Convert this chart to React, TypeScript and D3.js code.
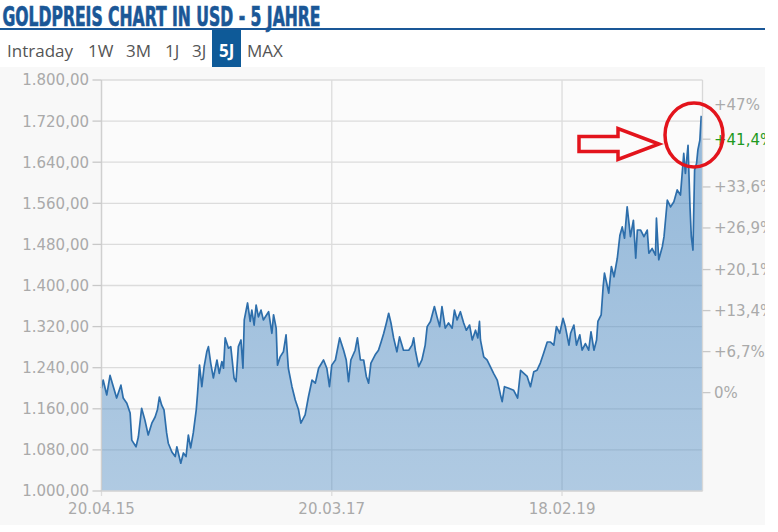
import React from "react";
import * as d3 from "d3";

const dates: string[] = [
"2015-04-20","2015-04-25","2015-05-06","2015-05-16","2015-05-26","2015-06-05","2015-06-18","2015-06-25","2015-07-06","2015-07-16",
"2015-07-21","2015-08-03","2015-08-10","2015-08-20","2015-08-30","2015-09-09","2015-09-20","2015-09-30","2015-10-07","2015-10-13",
"2015-10-20","2015-10-27","2015-11-04","2015-11-09","2015-11-20","2015-11-30","2015-12-05","2015-12-17","2015-12-25","2016-01-02",
"2016-01-09","2016-01-16","2016-01-24","2016-02-02","2016-02-06","2016-02-12","2016-02-19","2016-02-26","2016-03-05","2016-03-10",
"2016-03-17","2016-03-25","2016-04-05","2016-04-12","2016-04-20","2016-04-25","2016-04-30","2016-05-10","2016-05-17","2016-05-27",
"2016-06-02","2016-06-09","2016-06-17","2016-06-23","2016-06-27","2016-07-07","2016-07-15","2016-07-20","2016-07-27","2016-08-02",
"2016-08-09","2016-08-17","2016-08-24","2016-09-09","2016-09-19","2016-09-24","2016-10-02","2016-10-06","2016-10-14","2016-10-24",
"2016-11-01","2016-11-08","2016-11-19","2016-11-29","2016-12-09","2016-12-16","2016-12-29","2017-01-08","2017-01-19","2017-01-29",
"2017-02-08","2017-02-23","2017-03-05","2017-03-13","2017-03-20","2017-03-31","2017-04-13","2017-04-25","2017-05-03","2017-05-10",
"2017-05-17","2017-05-30","2017-06-06","2017-06-15","2017-06-25","2017-07-03","2017-07-10","2017-07-17","2017-07-30","2017-08-09",
"2017-08-17","2017-08-25","2017-09-02","2017-09-09","2017-09-16","2017-09-24","2017-10-04","2017-10-12","2017-10-24","2017-11-09",
"2017-11-19","2017-11-24","2017-11-29","2017-12-09","2017-12-19","2017-12-29","2018-01-04","2018-01-14","2018-01-26","2018-02-03",
"2018-02-11","2018-02-18","2018-02-28","2018-03-10","2018-03-21","2018-03-28","2018-04-05","2018-04-15","2018-04-25","2018-05-03",
"2018-05-13","2018-05-21","2018-05-31","2018-06-07","2018-06-12","2018-06-15","2018-06-25","2018-07-05","2018-07-15","2018-07-25",
"2018-08-05","2018-08-15","2018-08-20","2018-08-27","2018-09-09","2018-09-24","2018-10-06","2018-10-15","2018-10-25","2018-11-04",
"2018-11-14","2018-11-24","2018-12-04","2018-12-09","2018-12-14","2018-12-24","2019-01-04","2019-01-14","2019-01-24","2019-02-01",
"2019-02-11","2019-02-21","2019-02-28","2019-03-11","2019-03-16","2019-03-26","2019-04-03","2019-04-13","2019-04-20","2019-04-30",
"2019-05-10","2019-05-17","2019-05-26","2019-06-03","2019-06-07","2019-06-17","2019-06-23","2019-06-27","2019-07-05","2019-07-10",
"2019-07-18","2019-07-26","2019-08-05","2019-08-13","2019-08-20","2019-08-27","2019-09-04","2019-09-14","2019-09-23","2019-09-30",
"2019-10-05","2019-10-15","2019-10-25","2019-11-04","2019-11-09","2019-11-19","2019-11-29","2019-12-02","2019-12-09","2019-12-20",
"2019-12-25","2020-01-04","2020-01-14","2020-01-24","2020-02-03","2020-02-13","2020-02-23","2020-02-28","2020-03-07","2020-03-13",
"2020-03-17","2020-03-22","2020-03-27","2020-04-02","2020-04-06","2020-04-12","2020-04-16","2020-04-19"
];

const prices: number[] = [
1200,1216,1187,1225,1203,1181,1206,1181,1171,1152,
1099,1086,1105,1161,1138,1109,1132,1144,1158,1183,
1167,1158,1113,1093,1076,1067,1086,1054,1074,1067,
1109,1084,1113,1158,1190,1245,1203,1242,1271,1281,
1249,1220,1255,1229,1252,1239,1298,1278,1281,1220,
1213,1281,1294,1239,1333,1366,1330,1352,1323,1362,
1339,1352,1333,1349,1307,1343,1317,1245,1261,1271,
1304,1239,1203,1177,1158,1132,1148,1183,1216,1210,
1239,1255,1239,1203,1245,1255,1298,1274,1255,1213,
1255,1274,1298,1255,1255,1223,1210,1249,1265,1274,
1290,1307,1327,1346,1327,1298,1271,1300,1274,1274,
1284,1298,1274,1242,1255,1284,1320,1330,1359,1339,
1320,1359,1317,1327,1317,1352,1333,1349,1327,1313,
1323,1294,1313,1298,1330,1294,1261,1255,1242,1229,
1216,1187,1174,1203,1200,1196,1181,1235,1229,1223,
1203,1232,1235,1242,1249,1268,1290,1290,1284,1320,
1307,1336,1320,1284,1307,1323,1284,1304,1274,1287,
1274,1310,1274,1294,1330,1343,1398,1424,1401,1385,
1437,1417,1453,1498,1514,1492,1553,1495,1527,1453,
1508,1508,1495,1508,1463,1472,1459,1531,1450,1476,
1495,1566,1553,1563,1586,1576,1657,1618,1673,1553,
1495,1469,1625,1638,1664,1683,1729,1726
];

const priceTicks: number[] = [1000, 1080, 1160, 1240, 1320, 1400, 1480, 1560, 1640, 1720, 1800];
const dateTicks: string[] = ["2015-04-20", "2017-03-20", "2019-02-18"];
const dateTickLabels: string[] = ["20.04.15", "20.03.17", "18.02.19"];
const basePrice = 1191.5;
const pctTicks: number[] = [0, 6.7, 13.4, 20.1, 26.9, 33.6, 47];
const pctTickLabels: string[] = ["0%", "+6,7%", "+13,4%", "+20,1%", "+26,9%", "+33,6%", "+47%"];
const currentPct = 41.4;
const currentPctLabel = "+41,4%";
const tabs: string[] = ["Intraday", "1W", "3M", "1J", "3J", "5J", "MAX"];
const tabX: number[] = [7, 88, 126, 165, 192, 219, 247];
const activeTab = "5J";
const title = "GOLDPREIS CHART IN USD - 5 JAHRE";

const W = 778;
const H = 532;
const left = 101.5;
const right = 702.5;
const top = 80;
const bottom = 491;

export default function App() {
  const parse = d3.timeParse("%Y-%m-%d");
  const data = dates.map((d, i) => ({ date: parse(d) as Date, value: prices[i] }));
  const x = d3.scaleTime().domain([parse("2015-04-20") as Date, parse("2020-04-20") as Date]).range([left, right]);
  const y = d3.scaleLinear().domain([1000, 1800]).range([bottom, top]);
  const yPct = d3.scaleLinear()
    .domain([(1000 / basePrice - 1) * 100, (1800 / basePrice - 1) * 100])
    .range([bottom, top]);
  const area = d3.area<{ date: Date; value: number }>()
    .x(d => x(d.date)).y0(bottom).y1(d => y(d.value));
  const line = d3.line<{ date: Date; value: number }>()
    .x(d => x(d.date)).y(d => y(d.value));
  const fmt = d3.formatLocale({ decimal: ",", thousands: ".", grouping: [3], currency: ["", ""] }).format(",.2f");
  const axisFont = "'DejaVu Sans', Verdana, sans-serif";
  const axisColor = "#aaaaaa";

  return (
    <svg width={W} height={H} style={{ position: "absolute", left: 0, top: 0 }}>
      <defs>
        <linearGradient id="fillGrad" x1="0" y1="0" x2="0" y2="1">
          <stop offset="0%" stopColor="rgb(80,140,195)" stopOpacity={0.6} />
          <stop offset="100%" stopColor="rgb(80,140,195)" stopOpacity={0.44} />
        </linearGradient>
        <clipPath id="panelClip">
          <rect x={0} y={0} width={765} height={H} />
        </clipPath>
      </defs>
      <rect x={0} y={0} width={W} height={H} fill="#ffffff" />
      {/* title */}
      <text x={2.5} y={26} fontFamily="'DejaVu Sans Condensed', 'Liberation Sans Narrow', sans-serif"
        fontWeight="bold" fontSize={27} fill="#1a5797" stroke="#1a5797" strokeWidth={0.7}
        textLength={318} lengthAdjust="spacingAndGlyphs">{title}</text>
      <rect x={0} y={28} width={765} height={2} fill="#1a5797" />
      {/* tabs */}
      <rect x={212} y={30} width={29} height={37} fill="#0e5a98" />
      {tabs.map((t, i) => (
        <text key={t} x={tabX[i]} y={57} fontFamily="'Open Sans', sans-serif" fontSize={17}
          fontWeight={t === activeTab ? "bold" : "normal"} fill={t === activeTab ? "#ffffff" : "#555555"}>{t}</text>
      ))}
      {/* chart panel */}
      <rect x={0} y={67} width={765} height={458} fill="#f8f8f8" />
      <rect x={left} y={top} width={right - left} height={bottom - top} fill="#fbfbfb" />
      {/* grid */}
      {priceTicks.map(t => (
        <line key={"g" + t} x1={left} x2={right} y1={y(t)} y2={y(t)} stroke="#dcdcdc" strokeWidth={1.3} />
      ))}
      {dateTicks.map(t => (
        <line key={"v" + t} x1={x(parse(t) as Date)} x2={x(parse(t) as Date)} y1={top} y2={bottom + 5} stroke="#dcdcdc" strokeWidth={1.3} />
      ))}
      {/* area & line */}
      <path d={area(data) || ""} fill="url(#fillGrad)" />
      <path d={line(data) || ""} fill="none" stroke="#2d6eab" strokeWidth={1.7} strokeLinejoin="round" />
      {/* axes */}
      <line x1={left} x2={left} y1={top} y2={bottom} stroke="#d0d0d0" strokeWidth={1.3} />
      <line x1={right} x2={right} y1={top} y2={bottom} stroke="#d8d8d8" strokeWidth={1.3} />
      <line x1={left} x2={right} y1={bottom} y2={bottom} stroke="#d8d8d8" strokeWidth={1.3} />
      {priceTicks.map(t => (
        <g key={"l" + t}>
          <line x1={left - 9} x2={left} y1={y(t)} y2={y(t)} stroke="#c8c8c8" strokeWidth={1.3} />
          <text x={89} y={y(t)} dy="0.36em" textAnchor="end" fontFamily={axisFont} fontSize={15} fill={axisColor}>{fmt(t)}</text>
        </g>
      ))}
      {dateTicks.map((t, i) => (
        <text key={"dl" + t} x={x(parse(t) as Date)} y={514} textAnchor="middle" fontFamily={axisFont} fontSize={15} fill={axisColor}>{dateTickLabels[i]}</text>
      ))}
      <g clipPath="url(#panelClip)">
        {pctTicks.map((p, i) => (
          <g key={"r" + p}>
            {p !== 47 && <line x1={right} x2={right + 8} y1={yPct(p)} y2={yPct(p)} stroke="#c8c8c8" strokeWidth={1.3} />}
            <text x={714} y={yPct(p)} dy="0.36em" fontFamily={axisFont} fontSize={15} fill={axisColor}>{pctTickLabels[i]}</text>
          </g>
        ))}
        <line x1={right} x2={right + 8} y1={yPct(currentPct)} y2={yPct(currentPct)} stroke="#c8c8c8" strokeWidth={1.3} />
        <text x={714} y={yPct(currentPct)} dy="0.36em" fontFamily={axisFont} fontSize={15} fill="#1f9a1f">{currentPctLabel}</text>
      </g>
      {/* annotation */}
      <ellipse cx={694} cy={135} rx={29} ry={32} fill="none" stroke="#e3141c" strokeWidth={3.5} />
      <polygon points="579,136.5 618,136.5 618,128.5 659,144 618,159.5 618,151.5 579,151.5" fill="none" stroke="#e3141c" strokeWidth={3.5} strokeLinejoin="miter" />
    </svg>
  );
}
